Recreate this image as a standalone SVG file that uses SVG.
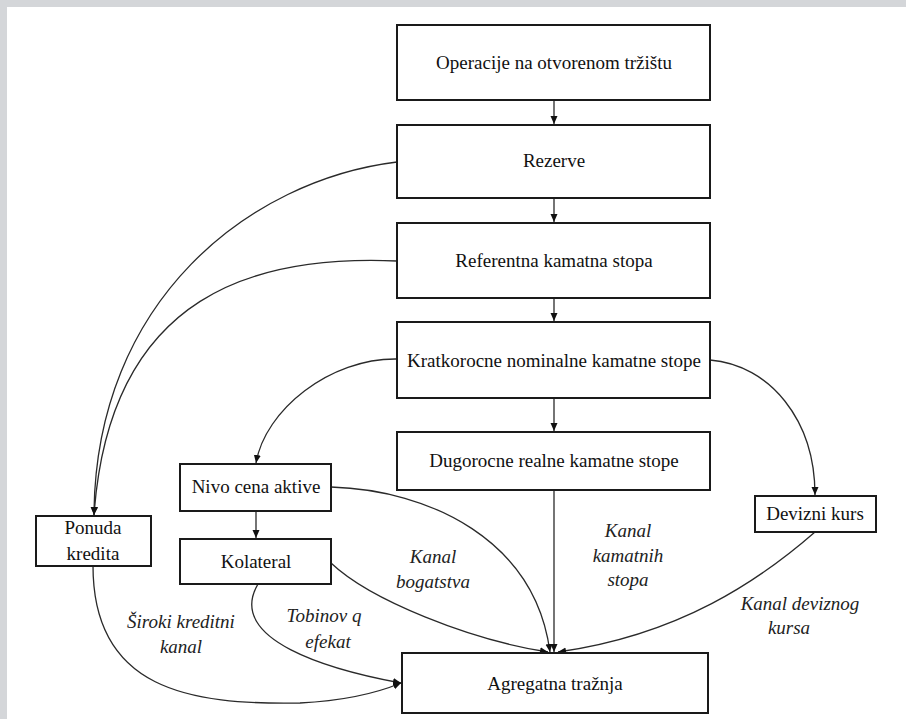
<svg xmlns="http://www.w3.org/2000/svg" width="906" height="719" viewBox="0 0 906 719">
  <defs>
    <marker id="arrow" markerUnits="userSpaceOnUse" markerWidth="9" markerHeight="8" refX="8" refY="3.5" orient="auto">
      <path d="M0,0 L8,3.5 L0,7 z" fill="#111"/>
    </marker>
    <style>
      .box { fill: #fff; stroke: #1a1a1a; stroke-width: 2; }
      .lbl { font-size: 19px; fill: #111; text-anchor: middle; }
      .ch { font-size: 19px; font-style: italic; fill: #222; text-anchor: middle; }
      .link { fill: none; stroke: #2a2a2a; stroke-width: 1.3; marker-end: url(#arrow); }
    </style>
  </defs>

  <!-- page background with grey frame on the top and left -->
  <rect x="0" y="0" width="906" height="719" fill="#fff"/>
  <rect x="0" y="0" width="906" height="7" fill="#d4d6d9"/>
  <rect x="0" y="0" width="7" height="719" fill="#d4d6d9"/>

  <!-- connectors -->
  <g id="connectors">
    <path class="link" d="M554,100 L554,124"/>
    <path class="link" d="M554,198 L554,222"/>
    <path class="link" d="M554,298 L554,321"/>
    <path class="link" d="M554,398 L554,431"/>
    <path class="link" d="M256,511 L256,538"/>
    <path class="link" d="M554,490 L554,652"/>
    <!-- Rezerve / Referentna kamatna stopa -> Ponuda kredita -->
    <path class="link" d="M397,162 C250,180 95,300 94,515"/>
    <path class="link" d="M397,261 C260,255 110,290 94,515"/>
    <!-- Kratkorocne -> Nivo cena aktive / Devizni kurs -->
    <path class="link" d="M397,359 C330,358 265,410 256,463"/>
    <path class="link" d="M710,360 C770,365 815,420 815,495"/>
    <!-- channels into Agregatna traznja -->
    <path class="link" d="M331,487 C430,490 535,540 550,652"/>
    <path class="link" d="M331,563 C370,600 470,640 548,652"/>
    <path class="link" d="M815,532 C760,580 680,635 558,652"/>
    <path class="link" d="M258,584 C225,640 330,670 401,683"/>
    <path class="link" d="M93,566 C93,690 190,705 300,703 Q360,700 401,683"/>
  </g>

  <g font-family="Liberation Serif, Times New Roman, serif">
    <g id="operacije">
      <rect class="box" x="397" y="25" width="313" height="75"/>
      <text class="lbl" x="554" y="69">Operacije na otvorenom tržištu</text>
    </g>
    <g id="rezerve">
      <rect class="box" x="397" y="125" width="313" height="73"/>
      <text class="lbl" x="554" y="167">Rezerve</text>
    </g>
    <g id="referentna">
      <rect class="box" x="397" y="223" width="313" height="75"/>
      <text class="lbl" x="554" y="267">Referentna kamatna stopa</text>
    </g>
    <g id="kratkorocne">
      <rect class="box" x="397" y="322" width="313" height="76"/>
      <text class="lbl" x="554" y="367">Kratkorocne nominalne kamatne stope</text>
    </g>
    <g id="dugorocne">
      <rect class="box" x="397" y="432" width="313" height="58"/>
      <text class="lbl" x="554" y="467">Dugorocne realne kamatne stope</text>
    </g>
    <g id="nivo">
      <rect class="box" x="180" y="464" width="151" height="47"/>
      <text class="lbl" x="256" y="493">Nivo cena aktive</text>
    </g>
    <g id="kolateral">
      <rect class="box" x="180" y="539" width="151" height="45"/>
      <text class="lbl" x="256" y="568">Kolateral</text>
    </g>
    <g id="ponuda">
      <rect class="box" x="36" y="516" width="115" height="50"/>
      <text class="lbl" x="93" y="534">Ponuda</text>
      <text class="lbl" x="93" y="560">kredita</text>
    </g>
    <g id="devizni">
      <rect class="box" x="755" y="496" width="121" height="36"/>
      <text class="lbl" x="815" y="520">Devizni kurs</text>
    </g>
    <g id="agregatna">
      <rect class="box" x="402" y="653" width="306" height="60"/>
      <text class="lbl" x="555" y="690">Agregatna tražnja</text>
    </g>

    <!-- channel labels -->
    <g id="labels">
      <text class="ch" x="181" y="628">Široki kreditni</text>
      <text class="ch" x="181" y="653">kanal</text>
      <text class="ch" x="324" y="622">Tobinov q</text>
      <text class="ch" x="328" y="648">efekat</text>
      <text class="ch" x="433" y="563">Kanal</text>
      <text class="ch" x="433" y="588">bogatstva</text>
      <text class="ch" x="628" y="537">Kanal</text>
      <text class="ch" x="628" y="562">kamatnih</text>
      <text class="ch" x="628" y="586">stopa</text>
      <text class="ch" x="800" y="610">Kanal deviznog</text>
      <text class="ch" x="789" y="634">kursa</text>
    </g>
  </g>
</svg>
